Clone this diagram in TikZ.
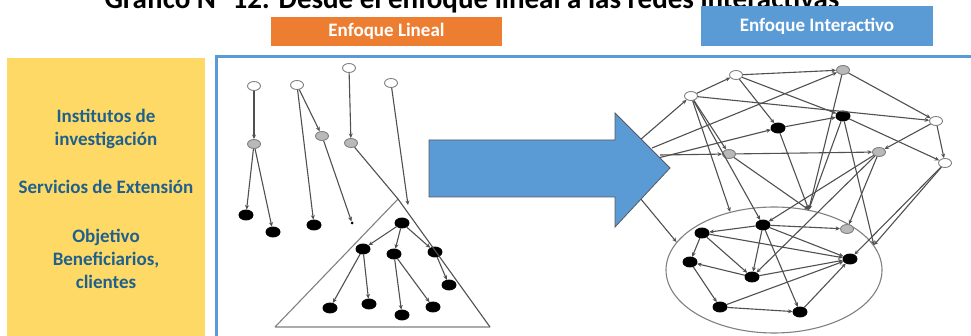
\documentclass[tikz,border=0pt]{standalone}
\usepackage{fontspec}
\setmainfont{Carlito}
\usepackage{tikz}
\usetikzlibrary{arrows.meta, shapes.geometric}

\definecolor{boxorange}{RGB}{237,125,49}
\definecolor{boxblue}{RGB}{91,155,213}
\definecolor{boxyellow}{RGB}{255,217,102}
\definecolor{labelblue}{RGB}{31,96,140}
\definecolor{edgegray}{RGB}{80,80,80}

\begin{document}
\begin{tikzpicture}[x=1pt, y=-1pt,
    wnode/.style={ellipse, draw=gray, fill=white, line width=0.9pt, minimum width=13pt, minimum height=9pt, inner sep=0pt},
    gnode/.style={wnode, fill=gray!55},
    bnode/.style={wnode, draw=black, fill=black, minimum width=14pt, minimum height=10pt},
    dot/.style={circle, fill=black, inner sep=0pt, minimum size=3pt},
    link/.style={draw=edgegray, line width=1.1pt, -{Stealth[length=4.5pt, width=4pt]}},
    label/.style={text=labelblue, align=center, font=\bfseries\fontsize{19}{23}\selectfont}]
    \useasboundingbox (0, 0) rectangle (971, 336);
    \clip (0, 0) rectangle (971, 336);

    \node[anchor=base, font=\bfseries\fontsize{29}{29}\selectfont] at (472, 9) (title) {Gráfico N° 12: Desde el enfoque lineal a las redes interactivas};
    \node[fill=boxorange, minimum width=231pt, minimum height=29pt, text=white, font=\bfseries\fontsize{19}{19}\selectfont] at (386.5, 31.5) (lineal) {Enfoque Lineal};
    \node[fill=boxblue, minimum width=232pt, minimum height=40pt, text=white, font=\bfseries\fontsize{19}{19}\selectfont] at (817, 26.5) (interactivo) {Enfoque Interactivo};

    \fill[boxyellow] (7, 58) rectangle (205, 345);
    \node[label] at (106, 129) (inst) {Institutos de\\investigación};
    \node[label] at (106, 187) (serv) {Servicios de Extensión};
    \node[label] at (106, 259) (obj) {Objetivo\\Beneficiarios,\\clientes};

    \draw[boxblue, line width=3pt] (216.5, 56.5) rectangle (990, 360);

    % linear chains
    \node[wnode] at (254, 86)  (w1) {};
    \node[wnode] at (297, 85)  (w2) {};
    \node[wnode] at (349, 68)  (w3) {};
    \node[wnode] at (391, 83)  (w4) {};
    \node[gnode] at (254, 144) (g1) {};
    \node[gnode] at (322, 136) (g2) {};
    \node[gnode] at (351, 143) (g3) {};
    \node[bnode] at (246, 215) (b1) {};
    \node[bnode] at (273, 232) (b2) {};
    \node[bnode] at (314, 225) (b3) {};
    \node[dot]   at (352, 223) (b4) {};
    \coordinate (apex) at (398, 199);
    \coordinate (tl) at (275, 327);
    \coordinate (tr) at (490, 327);
    \coordinate (wend) at (408, 205);
    \node[bnode] at (402, 223) (t1) {};
    \node[bnode] at (363, 249) (t2) {};
    \node[bnode] at (394, 254) (t3) {};
    \node[bnode] at (435, 252) (t4) {};
    \node[bnode] at (330, 308) (t5) {};
    \node[bnode] at (369, 304) (t6) {};
    \node[bnode] at (402, 315) (t7) {};
    \node[bnode] at (433, 307) (t8) {};
    \node[bnode] at (449, 285) (t9) {};

    \draw[gray, line width=1.1pt] (tl) -- (apex) (tl) -- (tr);
    \draw[edgegray, line width=1.1pt] (g3) -- (apex) -- (tr);
    \draw[link] (w1) -- (g1);
    \draw[link] (g1) -- (b1);
    \draw[link] (g1) -- (b2);
    \draw[link] (w2) -- (b3);
    \draw[link] (w2) -- (g2);
    \draw[link] (g2) -- (b4);
    \draw[link] (w3) -- (g3);
    \draw[link] (w4) -- (wend);
    \draw[link] (t1) -- (t2);
    \draw[link] (t1) -- (t3);
    \draw[link] (t1) -- (t4);
    \draw[link] (t2) -- (t5);
    \draw[link] (t2) -- (t6);
    \draw[link] (t3) -- (t7);
    \draw[link] (t3) -- (t8);
    \draw[link] (t4) -- (t9);

    % network
    \node[ellipse, draw=gray, line width=1.1pt, minimum width=216pt, minimum height=126pt, inner sep=0pt] at (774, 270) (group) {};
    \node[wnode] at (736, 75)  (na) {};
    \node[wnode] at (691, 96)  (nb) {};
    \node[gnode] at (843, 70)  (nc) {};
    \node[bnode] at (843, 116) (nd) {};
    \node[bnode] at (778, 128) (ne) {};
    \node[gnode] at (729, 154) (nf) {};
    \node[wnode] at (936, 121) (ng) {};
    \node[gnode] at (879, 152) (nh) {};
    \node[wnode] at (945, 163) (ni) {};
    \node[bnode] at (702, 233) (m1) {};
    \node[bnode] at (690, 262) (m2) {};
    \node[bnode] at (763, 225) (m3) {};
    \node[bnode] at (752, 277) (m4) {};
    \node[bnode] at (720, 307) (m5) {};
    \node[bnode] at (800, 312) (m6) {};
    \node[bnode] at (850, 259) (m7) {};
    \node[gnode] at (847, 229) (m8) {};
    \coordinate (sa) at (640, 140);
    \coordinate (sb) at (652, 148);
    \coordinate (sc) at (660, 155);
    \coordinate (se) at (650, 160);
    \coordinate (sd) at (640, 198);

    \draw[link] (nb) -- (na);
    \draw[link] (na) -- (nc);
    \draw[link] (nb) -- (ng);
    \draw[link] (na) -- (nd);
    \draw[link] (nc) -- (ng);
    \draw[link] (ne) -- (nd);
    \draw[link] (na) -- (ne);
    \draw[link] (nb) -- (nf);
    \draw[link] (nf) -- (nh);
    \draw[link] (nd) -- (ni);
    \draw[link] (ng) -- (ni);
    \draw[link] (ng) -- (nh);
    \draw[link] (sa) -- (nb);
    \draw[link] (sb) -- (nc);
    \draw[link] (sc) -- (nf);
    \draw[link] (se) -- (ne);
    \draw[link] (sd) -- (group.164);
    \draw[link] (nb) -- (group.127);
    \draw[link] (nb) -- (m3);
    \draw[link] (nf) -- (group.60);
    \draw[link] (ne) -- (group.60);
    \draw[link] (nd) -- (group.60);
    \draw[link] (nc) -- (group.60);
    \draw[link] (nh) -- (m4);
    \draw[link] (nh) -- (m8);
    \draw[link] (nh) -- (m3);
    \draw[link] (nd) -- (group.14);
    \draw[link] (ni) -- (group.14);
    \draw[link] (ni) -- (m7);
    \draw[link] (m1) -- (m2);
    \draw[link] (m3) -- (m1);
    \draw[link] (m1) -- (m4);
    \draw[link] (m1) -- (m7);
    \draw[link] (m3) -- (m4);
    \draw[link] (m3) -- (m6);
    \draw[link] (m3) -- (m7);
    \draw[link] (m3) -- (m8);
    \draw[link] (m4) -- (m2);
    \draw[link] (m2) -- (m5);
    \draw[link] (m5) -- (m6);
    \draw[link] (m5) -- (m7);
    \draw[link] (m4) -- (m7);
    \draw[link] (m6) -- (m7);

    \draw[fill=boxblue, draw=gray!70!black, line width=0.8pt] (429, 140) -- (615, 140) -- (615, 113) -- (670, 168) -- (615, 227) -- (615, 197) -- (429, 197) -- cycle;
\end{tikzpicture}
\end{document}
